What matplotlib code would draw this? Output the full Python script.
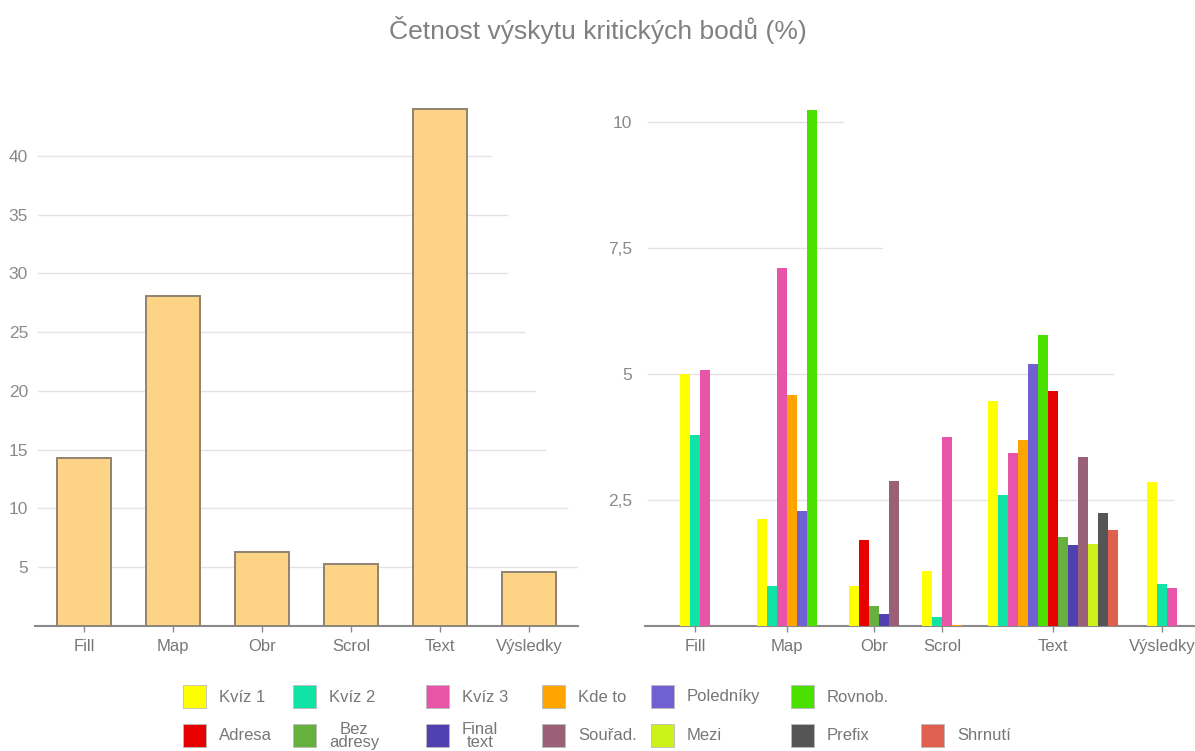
import matplotlib
matplotlib.use("Agg")
import matplotlib.pyplot as plt
from matplotlib.patches import Rectangle

plt.rcParams['font.family'] = ['Liberation Sans', 'DejaVu Sans']

categories = ["Fill", "Map", "Obr", "Scrol", "Text", "Výsledky"]
total = [14.3, 28.1, 6.3, 5.3, 44.0, 4.6]

series_names = ["Kvíz 1", "Kvíz 2", "Kvíz 3", "Kde to", "Poledníky", "Rovnob.",
                "Adresa", "Bez adresy", "Final text", "Souřad.", "Mezi", "Prefix", "Shrnutí"]
# None = series not present in that category
kviz1 = [5.0, 2.12, 0.79, 1.1, 4.47, 2.86]
kviz2 = [3.8, 0.79, None, 0.17, 2.6, 0.83]
kviz3 = [5.08, 7.1, None, 3.76, 3.43, 0.76]
kde_to = [None, 4.58, None, 0.02, 3.69, None]
poledniky = [None, 2.29, None, None, 5.21, None]
rovnob = [None, 10.24, None, None, 5.78, None]
adresa = [None, None, 1.71, None, 4.66, None]
bez_adresy = [None, None, 0.4, None, 1.77, None]
final_text = [None, None, 0.24, None, 1.61, None]
sourad = [None, None, 2.88, None, 3.36, None]
mezi = [None, None, None, None, 1.63, None]
prefix = [None, None, None, None, 2.25, None]
shrnuti = [None, None, None, None, 1.91, None]
series = [kviz1, kviz2, kviz3, kde_to, poledniky, rovnob, adresa,
          bez_adresy, final_text, sourad, mezi, prefix, shrnuti]

colors = ["#FFFF00", "#0FE3A5", "#E855A8", "#FFA500", "#7060D2", "#4CE000",
          "#E60000", "#66B040", "#5040B0", "#9A6078", "#CCF21A", "#555555", "#E06050"]
legend_labels = ["Kvíz 1", "Kvíz 2", "Kvíz 3", "Kde to", "Poledníky", "Rovnob.",
                 "Adresa", "Bez\nadresy", "Final\ntext", "Souřad.", "Mezi", "Prefix", "Shrnutí"]

W, H = 1195, 751
grey = "#8A8A8A"
grid_c = "#E3E3E3"

fig = plt.figure(figsize=(W / 100, H / 100), dpi=100)
fig.text(0.5, 1 - 30 / H, "Četnost výskytu kritických bodů (%)", ha="center", va="center",
         fontsize=19, color="#808080")

ax_bottom = 1 - 626 / H
ax_h = (626 - 97) / H

# ---- left chart
ax1 = fig.add_axes([35 / W, ax_bottom, 543 / W, ax_h])
ax1.bar(range(len(categories)), total, width=0.6, color="#FDD385",
        edgecolor="#8F8270", linewidth=1.4, zorder=3)
ax1.set_xlim(-0.55, 5.55)
ax1.set_ylim(0, 45)
left_ticks = [5, 10, 15, 20, 25, 30, 35, 40]
left_grid_end = [1.0, 0.98, 0.94, 0.92, 0.90, 0.87, 0.87, 0.84]
for t, e in zip(left_ticks, left_grid_end):
    ax1.axhline(t, xmin=0.006, xmax=e, color=grid_c, lw=1, zorder=1)
ax1.set_yticks(left_ticks)
ax1.set_xticks(range(len(categories)))
ax1.set_xticklabels(categories)

# ---- right chart (groups packed, only present series drawn)
ax2 = fig.add_axes([645 / W, ax_bottom, 550 / W, ax_h])
group_gaps = [4.7, 3.2, 2.3, 2.6, 2.9, 0]
pos = 0.0
centers = []
for ci in range(len(categories)):
    present = [si for si in range(len(series)) if series[si][ci] is not None]
    start = pos
    for si in present:
        ax2.bar(pos + 0.5, series[si][ci], width=1.0, color=colors[si], linewidth=0, zorder=3)
        pos += 1
    centers.append((start + pos) / 2)
    pos += group_gaps[ci]
ax2.set_xlim(-3.5, pos + 1.8)
ax2.set_ylim(0, 10.5)
right_ticks = [2.5, 5, 7.5, 10]
right_grid_end = [0.96, 0.85, 0.43, 0.36]
for t, e in zip(right_ticks, right_grid_end):
    ax2.axhline(t, xmin=0.005, xmax=e, color=grid_c, lw=1, zorder=1)
ax2.set_yticks(right_ticks)
ax2.set_yticklabels([f"{t:g}".replace(".", ",") for t in right_ticks])
ax2.set_xticks(centers)
ax2.set_xticklabels(categories)

for ax, ypad in ((ax1, 5), (ax2, 9)):
    for s in ("left", "right", "top"):
        ax.spines[s].set_visible(False)
    ax.spines["bottom"].set_color(grey)
    ax.spines["bottom"].set_linewidth(1.5)
    ax.tick_params(axis="y", length=0, pad=ypad, labelsize=12.5, labelcolor=grey)
    ax.tick_params(axis="x", length=4, width=1, color=grey, pad=5.5, labelsize=12, labelcolor="#777777")
    ax.set_facecolor("none")

# ---- legend (manual, two rows, aligned columns)
col_x = [183, 293, 426, 542, 651, 791, 921]
leg_col = [0, 1, 2, 3, 4, 5, 0, 1, 2, 3, 4, 5, 6]
leg_row_y = [696, 735]
sw = 23
for si in range(len(series)):
    x = col_x[leg_col[si]]
    y = leg_row_y[0 if si < 6 else 1]
    fig.add_artist(Rectangle((x / W, 1 - (y + sw / 2) / H), sw / W, sw / H,
                             transform=fig.transFigure, facecolor=colors[si],
                             edgecolor="#BBBBBB", linewidth=0.6))
    fig.text((x + sw + 13) / W, 1 - (y + 1) / H, legend_labels[si], ha="left", va="center",
             ma="center", fontsize=12, color="#777777", linespacing=0.9)

fig.savefig("out.png", dpi=100)
